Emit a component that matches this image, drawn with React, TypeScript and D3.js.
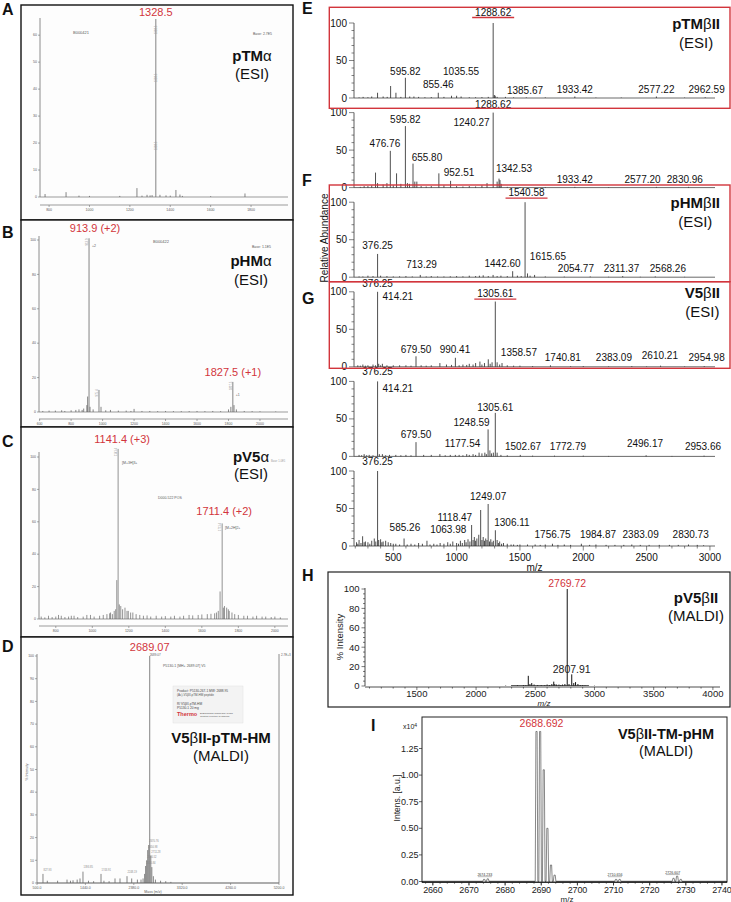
import React from "react";
import * as d3 from "d3";

const FONT = "'Liberation Sans', Arial, Helvetica, sans-serif";
const RED = "#d2353c";
const SCAN = "#707070";
const SCANTXT = "#5a5a5a";

type Peak = [number, number];
type Lab = [string, number, number];

// ---------------- Panel A : pTMα (ESI) ----------------
const aTicksX = [800, 1000, 1200, 1400, 1600, 1800];
const aTicksY = [0, 10, 20, 30, 40, 50, 60];
const aPeaks: Peak[] = [[780, 1.1], [884, 1.8], [948, 0.5], [1000, 0.4], [1150, 0.4], [1235, 3.3], [1260, 0.5], [1285, 0.8], [1300, 0.6], [1310, 0.7], [1328.5, 66], [1349, 0.8], [1379, 0.6], [1400, 0.5], [1428, 2.6], [1448, 0.9], [1460, 0.4], [1600, 0.3], [1770, 1.3]];

// ---------------- Panel B : pHMα (ESI) ----------------
const bTicksX = [600, 800, 1000, 1200, 1400, 1600, 1800, 2000];
const bTicksY = [0, 20, 40, 60, 80, 100];
const bPeaks: Peak[] = [[620, 0.6], [660, 0.8], [700, 0.8], [740, 1], [760, 0.6], [800, 1], [830, 1.2], [850, 1.5], [870, 1.2], [880, 2], [900, 4], [905, 9], [913.9, 101], [920, 3], [940, 1.5], [977, 12.8], [990, 3], [1020, 1], [1050, 1.2], [1100, 0.8], [1150, 0.8], [1180, 0.6], [1200, 1.8], [1250, 0.6], [1300, 0.6], [1350, 0.5], [1400, 0.6], [1450, 0.5], [1500, 0.5], [1550, 0.5], [1600, 0.6], [1650, 0.5], [1700, 0.6], [1750, 0.5], [1800, 1.5], [1815, 3], [1827.5, 17.5], [1835, 4], [1850, 1.5], [1900, 0.6], [1950, 0.5], [2000, 0.4], [2100, 0.3]];

// ---------------- Panel C : pV5α (ESI) ----------------
const cTicksX = [800, 1000, 1200, 1400, 1600, 1800, 2000];
const cTicksY = [0, 20, 40, 60, 80, 100];
const cPeaks: Peak[] = [[720, 1.5], [740, 1], [760, 2], [780, 1.2], [800, 1.5], [815, 2.5], [830, 2], [850, 1.2], [870, 1.5], [885, 2], [900, 2], [920, 1.2], [950, 1.5], [970, 2.5], [990, 2.5], [1010, 1.5], [1040, 2], [1060, 2.5], [1080, 3], [1095, 3.5], [1100, 4], [1110, 3], [1120, 5], [1128, 6], [1134, 24], [1141.4, 105], [1148, 9], [1156, 8], [1166, 6], [1179, 7], [1190, 5], [1197, 5], [1210, 4], [1222, 4], [1240, 3], [1260, 2.5], [1280, 2], [1300, 2.2], [1320, 1.5], [1350, 2], [1380, 1.5], [1400, 1.8], [1430, 1.5], [1450, 2], [1480, 1.5], [1500, 2], [1530, 2.5], [1550, 2.2], [1580, 2.5], [1600, 2.8], [1630, 3], [1650, 3.2], [1670, 3.5], [1680, 4], [1690, 5], [1700, 17], [1711.4, 59], [1718, 7], [1724, 8], [1736, 7], [1745, 6], [1750, 5], [1765, 4], [1780, 3], [1800, 2.5], [1830, 2], [1850, 2], [1880, 1.5], [1900, 2], [1930, 1.5], [1950, 1.5], [1980, 1.2], [2000, 1.5], [2030, 1]];

// ---------------- Panel D : V5βII-pTM-HM (MALDI) ----------------
const dTicksX = [500, 1440, 2380, 3320, 4260, 5200];
const dTicksY = [0, 10, 20, 30, 40, 50, 60, 70, 80, 90, 100];
const dPeaks: Peak[] = [[616, 4], [700, 1], [900, 1], [1083, 1.5], [1150, 1], [1200, 1.2], [1280, 1.5], [1335, 2], [1393, 5], [1500, 1], [1600, 0.8], [1743, 4], [1800, 1], [1900, 0.8], [2015, 2], [2112, 2], [2248, 3], [2339, 2], [2450, 1.5], [2520, 1.5], [2560, 2], [2590, 4], [2610, 7.5], [2630, 10], [2650, 14.5], [2670, 16.7], [2689.07, 100], [2710, 12], [2730, 7], [2760, 3], [2800, 1.5], [2900, 1], [3000, 0.8], [3100, 0.5]];
const dTinyLabels: Lab[] = [["827.93", 616, 5.5], ["1393.85", 1393, 6.5], ["1743.91", 1743, 5.5], ["2248.19", 2248, 4.5], ["2610.84", 2610, 8.5], ["2630.52", 2630, 11], ["2650.98", 2650, 15.5], ["2670.76", 2670, 18], ["2711.28", 2710, 13]];

// ---------------- Panels E–G : ESI spectra ----------------
const egTicksX = [500, 1000, 1500, 2000, 2500, 3000];
const egTicksY = [0, 50, 100];

const s1Peaks: Peak[] = [[230, 0.8], [262, 1.5], [300, 1], [330, 2], [376, 7], [420, 2], [452, 1.5], [479, 16], [521, 7], [560, 1.5], [595.82, 27], [630, 2], [663, 2], [700, 1.5], [750, 1], [800, 1.2], [855.46, 7], [900, 1.5], [960, 3], [1000, 3], [1035.55, 2], [1100, 1], [1150, 1], [1200, 1.2], [1250, 1.5], [1288.62, 100], [1298, 4], [1305, 3], [1320, 1.5], [1385.67, 1.5], [1450, 0.8], [1550, 0.8], [1700, 0.8], [1933.42, 2], [2100, 0.6], [2300, 0.6], [2577.22, 2], [2800, 0.6], [2962.59, 1]];
const s1Labels: Lab[] = [["1288.62", 1288.62, 110], ["595.82", 595.82, 31], ["855.46", 855.46, 13], ["1035.55", 1035.55, 31], ["1385.67", 1540, 6], ["1933.42", 1933.42, 7], ["2577.22", 2577.22, 7], ["2962.59", 2974, 7]];

const s2Peaks: Peak[] = [[240, 1], [270, 2], [300, 2], [330, 3], [360, 20], [376, 6], [420, 4], [450, 6], [476.76, 49], [500, 3], [526, 19], [560, 5], [595.82, 82], [612, 6], [628, 5], [655.8, 32], [670, 8], [686, 8], [720, 2], [760, 1.5], [800, 2], [860, 19], [900, 3], [952.51, 9], [1000, 2], [1050, 1.5], [1100, 2], [1150, 1.5], [1200, 3], [1240.27, 6], [1288.62, 100], [1320, 8], [1335, 12], [1342.53, 10], [1352, 5], [1400, 1], [1500, 0.8], [1700, 0.8], [1933.42, 1], [2200, 0.6], [2577.2, 1], [2830.96, 1]];
const s2Labels: Lab[] = [["1288.62", 1288.62, 106], ["595.82", 595.82, 86], ["1240.27", 1118, 82], ["476.76", 434, 54], ["655.80", 766, 36], ["952.51", 1019, 15], ["1342.53", 1453, 21], ["1933.42", 1933.42, 6], ["2577.20", 2468, 6], ["2830.96", 2802, 6]];

const s3Peaks: Peak[] = [[230, 1], [260, 1], [300, 2], [340, 1.5], [376.25, 31], [400, 2], [450, 1.5], [500, 1], [550, 1.2], [600, 1.5], [650, 1], [713.29, 3], [760, 1], [800, 1.5], [850, 1], [900, 1], [950, 1.2], [1000, 1.5], [1050, 1.2], [1100, 2], [1150, 1.5], [1180, 2], [1210, 2.5], [1250, 1.5], [1288, 3], [1320, 1.5], [1350, 2], [1400, 1.5], [1442.6, 8], [1480, 2], [1510, 1.5], [1540.58, 100], [1560, 5], [1580, 2], [1615.65, 3], [1700, 1], [1850, 0.8], [2054.77, 1], [2200, 0.6], [2311.37, 1.5], [2450, 0.6], [2568.26, 1], [2800, 0.5]];
const s3Labels: Lab[] = [["1540.58", 1552, 108], ["376.25", 376.25, 37], ["713.29", 723, 12], ["1442.60", 1363, 13], ["1615.65", 1721, 23], ["2054.77", 1942, 7], ["2311.37", 2302, 7], ["2568.26", 2668, 7]];

const s4Peaks: Peak[] = [[220, 2], [240, 1.5], [260, 3], [280, 1.5], [300, 2], [340, 3], [360, 2], [376.25, 100], [385, 4], [400, 2], [414.21, 4], [450, 2], [500, 2], [550, 2], [600, 2], [640, 1.5], [679.5, 14], [720, 2], [760, 1.5], [800, 2], [868, 5], [920, 3], [960, 2.5], [990.41, 12], [1020, 2], [1050, 3], [1080, 2.5], [1100, 4], [1130, 3], [1150, 5], [1184, 7], [1200, 3], [1220, 5], [1250, 10], [1265, 4], [1280, 6], [1305.61, 87], [1320, 6], [1340, 3], [1358.57, 5], [1400, 2], [1450, 1.5], [1500, 1.5], [1600, 1], [1740.81, 2], [1900, 0.8], [2000, 1], [2200, 0.6], [2383.09, 1], [2500, 0.6], [2610.21, 1.5], [2800, 0.6], [2954.98, 1]];
const s4Labels: Lab[] = [["376.25", 376.25, 107], ["414.21", 536, 89], ["1305.61", 1305.61, 93], ["679.50", 679.5, 19], ["990.41", 987, 18], ["1358.57", 1492, 15], ["1740.81", 1839, 8], ["2383.09", 2242, 8], ["2610.21", 2605, 11], ["2954.98", 2974, 8]];

const s5Peaks: Peak[] = [[230, 2], [250, 1.5], [270, 3], [290, 1.5], [310, 2], [340, 1.5], [376.25, 100], [390, 3], [414.21, 3], [440, 1.5], [470, 2], [520, 2], [560, 1.5], [600, 2], [640, 1.5], [679.5, 19], [740, 2], [800, 2], [868, 3], [910, 1.5], [950, 2], [990, 2], [1020, 2], [1050, 1.5], [1080, 3], [1100, 2], [1130, 3], [1150, 2], [1177.54, 5], [1200, 4], [1223, 5], [1235, 3], [1248.59, 36], [1263, 8], [1275, 4], [1290, 5], [1305.61, 58], [1320, 5], [1350, 2], [1400, 1.5], [1502.67, 2], [1600, 1], [1772.79, 1], [2000, 1], [2200, 0.6], [2496.17, 1.5], [2700, 0.6], [2953.66, 1]];
const s5Labels: Lab[] = [["376.25", 376.25, 108], ["414.21", 536, 86], ["1305.61", 1305.61, 61], ["1248.59", 1118, 41], ["679.50", 679.5, 24], ["1177.54", 1047, 12], ["1502.67", 1524, 9], ["1772.79", 1879, 9], ["2496.17", 2487, 12], ["2953.66", 2945, 9]];

const s6Peaks: Peak[] = [[210, 5], [220, 3], [230, 8], [245, 4], [258, 13], [270, 5], [280, 6], [300, 5], [315, 3], [330, 7], [350, 10], [362, 6], [376.25, 100], [385, 8], [400, 9], [410, 5], [420, 6], [440, 7], [460, 5], [480, 4], [500, 3], [520, 3], [550, 2], [585.26, 10], [610, 2], [640, 3], [670, 2], [700, 4], [730, 3], [766, 7], [790, 2], [820, 3], [845, 2], [870, 4], [900, 3], [930, 5], [950, 3], [970, 6], [1000, 4], [1015, 3], [1030, 7], [1045, 4], [1063.98, 8], [1075, 5], [1090, 9], [1105, 6], [1118.47, 28], [1130, 8], [1140, 12], [1150, 7], [1160, 10], [1175, 15], [1190, 48], [1200, 8], [1210, 12], [1220, 7], [1230, 10], [1240, 8], [1249.07, 56], [1260, 6], [1270, 9], [1280, 5], [1290, 7], [1306.11, 21], [1320, 8], [1330, 4], [1340, 6], [1355, 3], [1370, 4], [1400, 3], [1430, 2], [1450, 2], [1480, 1.5], [1500, 2], [1560, 2], [1620, 2], [1660, 1.5], [1700, 2], [1756.75, 3], [1800, 1.5], [1850, 2], [1900, 1.5], [1984.87, 3], [2050, 1.5], [2100, 2], [2180, 1.5], [2250, 1.5], [2320, 1.5], [2383.09, 2], [2450, 1.5], [2520, 1.5], [2600, 1.5], [2680, 1.5], [2750, 1.5], [2830.73, 2], [2900, 1.5], [2950, 1]];
const s6Labels: Lab[] = [["376.25", 376.25, 108], ["585.26", 592, 20], ["1063.98", 934, 17], ["1118.47", 986, 34], ["1249.07", 1249.07, 61], ["1306.11", 1437, 27], ["1756.75", 1758, 11], ["1984.87", 2116, 11], ["2383.09", 2453, 11], ["2830.73", 2848, 11]];

const egPeaks = [s1Peaks, s2Peaks, s3Peaks, s4Peaks, s5Peaks, s6Peaks];
const egLabels = [s1Labels, s2Labels, s3Labels, s4Labels, s5Labels, s6Labels];
const egUnderline = ["1288.62", null, "1540.58", "1305.61", null, null];
const egTitles: (string[] | null)[] = [["pTM", "β", "II"], null, ["pHM", "β", "II"], ["V5", "β", "II"], null, null];

// ---------------- Panel H : pV5βII (MALDI) ----------------
const hTicksX = [1500, 2000, 2500, 3000, 3500, 4000];
const hTicksY = [0, 20, 40, 60, 80, 100];
const hPeaks: Peak[] = [[2250, 0.4], [2300, 0.6], [2350, 0.8], [2400, 1], [2420, 0.8], [2441, 10.5], [2455, 2], [2470, 3], [2490, 1.5], [2520, 1], [2550, 1], [2580, 0.8], [2600, 1.5], [2620, 1], [2640, 2], [2656, 4.5], [2665, 2], [2680, 1.5], [2700, 1.5], [2715, 1], [2730, 1.5], [2750, 2], [2769.72, 100], [2785, 2], [2807.91, 12], [2825, 3], [2840, 4], [2860, 2], [2880, 1], [2900, 1], [2920, 0.6], [2950, 0.5], [3000, 0.3]];

// ---------------- Panel I : V5βII-TM-pHM (MALDI) ----------------
const iTicksX = [2660, 2670, 2680, 2690, 2700, 2710, 2720, 2730, 2740];
const iTicksY = [0, 0.25, 0.5, 0.75, 1.0, 1.25];
const iPeaks: Peak[] = [[2674.2, 0.02], [2675.2, 0.025], [2688.69, 1.41], [2689.69, 1.41], [2690.69, 1.05], [2691.7, 0.5], [2692.7, 0.155], [2693.7, 0.06], [2710.7, 0.02], [2711.7, 0.02], [2726.6, 0.03], [2727.6, 0.05], [2728.6, 0.02]];
const iTinyLabels: Lab[] = [["2674.233", 2674.4, 0.05], ["2710.656", 2710.4, 0.05], ["2726.607", 2726.4, 0.07]];

let _ctx: CanvasRenderingContext2D | null = null;
function textW(s: string, font: string) {
  if (!_ctx) _ctx = document.createElement("canvas").getContext("2d");
  if (!_ctx) return s.length * 8;
  _ctx.font = font;
  return _ctx.measureText(s).width;
}

function Sticks({ peaks, x, y, stroke, sw }: any) {
  const d = peaks.map(([m, v]: Peak) => `M${x(m).toFixed(2)},${y(0).toFixed(2)}V${y(v).toFixed(2)}`).join("");
  return <path d={d} stroke={stroke} strokeWidth={sw} fill="none" />;
}

function ScanAxes({ x, y, xTicks, yTicks, axisY, top, fmt }: any) {
  const [x0, x1] = x.range();
  return (
    <g>
      <line x1={x0} x2={x0} y1={y(0)} y2={top} stroke={SCAN} strokeWidth={0.8} />
      <line x1={x0} x2={x1} y1={y(0)} y2={y(0)} stroke={SCAN} strokeWidth={0.7} />
      {yTicks.map((t: number) => (
        <g key={"y" + t}>
          <line x1={x0 - 2} x2={x0} y1={y(t)} y2={y(t)} stroke={SCAN} strokeWidth={0.6} />
          <text x={x0 - 3} y={y(t)} dy="0.35em" fontSize={3.5} textAnchor="end" fill={SCANTXT}>{t}</text>
        </g>
      ))}
      <line x1={x0} x2={x1} y1={axisY} y2={axisY} stroke={SCAN} strokeWidth={0.7} />
      {xTicks.map((t: number) => (
        <g key={"x" + t}>
          <line x1={x(t)} x2={x(t)} y1={axisY} y2={axisY + 2} stroke={SCAN} strokeWidth={0.6} />
          <text x={x(t)} y={axisY + 5.5} fontSize={3.5} textAnchor="middle" fill={SCANTXT}>{fmt ? fmt(t) : t}</text>
        </g>
      ))}
    </g>
  );
}

function Title2({ cx, y1, y2, a, b, c, line2, size }: any) {
  return (
    <g>
      <text x={cx} y={y1} textAnchor="middle" fontSize={size} fontWeight="bold" fill="#111">
        {a}<tspan fontWeight="normal">{b}</tspan>{c}
      </text>
      <text x={cx} y={y2} textAnchor="middle" fontSize={size} fill="#111">{line2}</text>
    </g>
  );
}

export default function App() {
  const xA = d3.scaleLinear().domain([755, 1983]).range([40, 288]);
  const yA = d3.scaleLinear().domain([0, 66]).range([197, 19]);
  const xB = d3.scaleLinear().domain([596, 2178]).range([39, 288]);
  const yB = d3.scaleLinear().domain([0, 100]).range([412, 240]);
  const xC = d3.scaleLinear().domain([708, 2072]).range([39, 288]);
  const yC = d3.scaleLinear().domain([0, 100]).range([619, 457]);
  const xD = d3.scaleLinear().domain([500, 5200]).range([37, 279]);
  const yD = d3.scaleLinear().domain([0, 100]).range([883, 656]);
  const xE = d3.scaleLinear().domain([190, 3040]).range([354, 715]);
  const yE = (i: number) => {
    const base = 98 + i * 89.6;
    return d3.scaleLinear().domain([0, 100]).range([base, base - 75]);
  };
  const xH = d3.scaleLinear().domain([1062, 4060]).range([365, 720]);
  const yH = d3.scaleLinear().domain([0, 100]).range([686, 589]);
  const xI = d3.scaleLinear().domain([2657, 2741.4]).range([422, 727]);
  const yI = d3.scaleLinear().domain([0, 1.546]).range([881.5, 717]);

  const minorE = d3.range(0, 101, 10);
  const minorEX = d3.range(200, 3001, 100);
  const minorH = d3.range(0, 101, 5);
  const minorHX = d3.range(1100, 4051, 100);
  const minorIX = d3.range(2658, 2741, 2);

  const letter = (t: string, x: number, y: number) => (
    <text x={x} y={y} fontSize={16} fontWeight="bold" fill="#111">{t}</text>
  );
  const vtiny = (t: string, x: number, y: number) => (
    <text transform={`translate(${x},${y}) rotate(-90)`} fontSize={2.8} fill="#999" textAnchor="middle">{t}</text>
  );

  return (
    <svg width={731} height={902} style={{ position: "absolute", left: 0, top: 0, background: "#fff" }} fontFamily={FONT}>
      <rect width={731} height={902} fill="#fff" />

      {/* ===== Left column frames ===== */}
      <rect x={21} y={5} width={272} height={215} fill="#fdfdfd" stroke="#111" strokeWidth={1.4} />
      <rect x={21} y={220} width={272} height={207} fill="#fdfdfd" stroke="#111" strokeWidth={1.4} />
      <rect x={21} y={427} width={272} height={210} fill="#fdfdfd" stroke="#111" strokeWidth={1.4} />
      <rect x={21} y={637} width={272} height={258} fill="#fdfdfd" stroke="#111" strokeWidth={1.4} />

      {/* ===== Panel A ===== */}
      <ScanAxes x={xA} y={yA} xTicks={aTicksX} yTicks={aTicksY} axisY={205} top={18} />
      <Sticks peaks={aPeaks} x={xA} y={yA} stroke="#666" sw={0.8} />
      <text x={73} y={34} fontSize={4} fill={SCANTXT}>B000421</text>
      <text x={253} y={35} fontSize={3.5} fill={SCANTXT}>Base: 2.7E5</text>
      {vtiny("1328.5", xA(1328.5) + 1.6, 30)}
      {vtiny("1328.5", xA(1328.5) + 1.6, 78)}
      {vtiny("1328.5", xA(1328.5) + 1.6, 146)}
      <text x={xA(1328.5)} y={16} textAnchor="middle" fontSize={11} fill={RED}>1328.5</text>
      <Title2 cx={252} y1={61} y2={79} a="pTM" b="α" c="" line2="(ESI)" size={15} />

      {/* ===== Panel B ===== */}
      <ScanAxes x={xB} y={yB} xTicks={bTicksX} yTicks={bTicksY} axisY={419} top={236} />
      <Sticks peaks={bPeaks} x={xB} y={yB} stroke="#666" sw={0.8} />
      <text x={153} y={243} fontSize={4} fill={SCANTXT}>B000422</text>
      <text x={252} y={248} fontSize={3.5} fill={SCANTXT}>Base: 1.1E5</text>
      <text x={xB(913.9) + 3} y={247} fontSize={3.5} fill={SCANTXT}>+2</text>
      <text x={xB(1827.5) + 3} y={396} fontSize={3.5} fill={SCANTXT}>+1</text>
      {vtiny("913.9", xB(913.9) - 1.2, 242)}
      {vtiny("975.4", xB(977) - 1.2, 393)}
      {vtiny("1827.5", xB(1827.5) - 1.2, 386)}
      <text x={xB(913.9) + 6} y={232} textAnchor="middle" fontSize={11} fill={RED}>913.9 (+2)</text>
      <text x={xB(1827.5)} y={376} textAnchor="middle" fontSize={11} fill={RED}>1827.5 (+1)</text>
      <Title2 cx={251} y1={266} y2={285} a="pHM" b="α" c="" line2="(ESI)" size={15} />

      {/* ===== Panel C ===== */}
      <ScanAxes x={xC} y={yC} xTicks={cTicksX} yTicks={cTicksY} axisY={626} top={452} />
      <Sticks peaks={cPeaks} x={xC} y={yC} stroke="#666" sw={0.7} />
      <text x={122} y={464} fontSize={3.5} fill={SCANTXT}>[M+3H]3+</text>
      <text x={225} y={529} fontSize={3.5} fill={SCANTXT}>[M+2H]2+</text>
      <text x={158} y={499} fontSize={3.5} fill={SCANTXT}>D000-522 POS</text>
      <text x={271} y={462} fontSize={2.6} fill="#999">Base: 1.0E5</text>
      {vtiny("1141.4", xC(1141.4) - 1.2, 452)}
      {vtiny("1711.4", xC(1711.4) - 1.2, 527)}
      <text x={xC(1141.4) + 4} y={443} textAnchor="middle" fontSize={11} fill={RED}>1141.4 (+3)</text>
      <text x={xC(1711.4) + 2} y={515} textAnchor="middle" fontSize={11} fill={RED}>1711.4 (+2)</text>
      <Title2 cx={251} y1={462} y2={479} a="pV5" b="α" c="" line2="(ESI)" size={15} />

      {/* ===== Panel D ===== */}
      <ScanAxes x={xD} y={yD} xTicks={dTicksX} yTicks={dTicksY} axisY={883} top={654} fmt={(t: number) => t.toFixed(1)} />
      <line x1={279} x2={279} y1={883} y2={654} stroke={SCAN} strokeWidth={0.8} />
      <Sticks peaks={dPeaks} x={xD} y={yD} stroke="#666" sw={0.8} />
      {dTinyLabels.map(([t, m, l]) => (
        <text key={t} x={xD(m) + 0.5} y={yD(l)} fontSize={2.6} fill="#888">{t}</text>
      ))}
      <text x={xD(2689.07)} y={656} fontSize={3} fill={SCANTXT}>2689.07</text>
      <text x={281} y={656} fontSize={3} fill={SCANTXT}>2.7E+3</text>
      <text x={163} y={667} fontSize={3.5} fill={SCANTXT}>P5130-1 [MH+ 2689.07] V5</text>
      <text transform="translate(28,772) rotate(-90)" fontSize={3.5} fill={SCANTXT} textAnchor="middle">% Intensity</text>
      <text x={153} y={893} fontSize={3.5} fill={SCANTXT} textAnchor="middle">Mass (m/z)</text>
      <rect x={173} y={686} width={70} height={37} fill="#f3f3f3" stroke="#e2e2e2" strokeWidth={0.5} />
      <text x={177} y={692} fontSize={3.2} fill="#444">Product: P5130-267-1    MW: 2688.95</text>
      <text x={177} y={696} fontSize={3} fill="#555">(Ac)-V5βII-pTM-HM peptide</text>
      <text x={177} y={705} fontSize={3.2} fill="#444">R/ V5βII-pTM-HM</text>
      <text x={177} y={709} fontSize={3.2} fill="#444">P5130-1          20 mg</text>
      <text x={177} y={716} fontSize={5.5} fontWeight="bold" fill={RED}>Thermo</text>
      <text x={200} y={714} fontSize={2.5} fill="#555">ELECTRON CORPORATION</text>
      <text x={200} y={717} fontSize={2.5} fill="#555">Custom Peptide Synthesis</text>
      <text x={xD(2689.07)} y={651} textAnchor="middle" fontSize={11} fill={RED}>2689.07</text>
      <Title2 cx={221} y1={743} y2={761} a="V5" b="β" c="II-pTM-HM" line2="(MALDI)" size={15} />

      {/* ===== Panels E–G ===== */}
      {egPeaks.map((pk, i) => {
        const y = yE(i);
        const base = y(0);
        const title = egTitles[i];
        let tw = 0;
        if (title) tw = textW(title[0], "bold 15px 'Liberation Sans'") + textW(title[1], "15px 'Liberation Sans'") + textW(title[2], "bold 15px 'Liberation Sans'");
        return (
          <g key={"eg" + i}>
            <line x1={354} x2={354} y1={base} y2={y(100)} stroke="#333" strokeWidth={0.8} />
            {minorE.map((t) => (
              <line key={t} x1={t % 50 === 0 ? 349 : 351.5} x2={354} y1={y(t)} y2={y(t)} stroke="#333" strokeWidth={0.6} />
            ))}
            {egTicksY.map((t) => (
              <text key={"l" + t} x={347} y={y(t)} dy="0.35em" textAnchor="end" fontSize={10} fill="#111">{t}</text>
            ))}
            <line x1={354} x2={715} y1={base} y2={base} stroke="#444" strokeWidth={0.8} />
            <Sticks peaks={pk} x={xE} y={y} stroke="#222" sw={0.8} />
            {egLabels[i].map(([t, m, l]) => (
              <text key={t + m} x={xE(m)} y={y(l)} textAnchor="middle" fontSize={10} fill="#111">{t}</text>
            ))}
            {egUnderline[i] && egLabels[i].filter((d) => d[0] === egUnderline[i]).map(([t, m, l]) => (
              <line key={"u" + t} x1={xE(m) - 21} x2={xE(m) + 21} y1={y(l) + 2} y2={y(l) + 2} stroke={RED} strokeWidth={1.3} />
            ))}
            {title && (
              <g>
                <text x={720} y={base - 69} textAnchor="end" fontSize={15} fontWeight="bold" fill="#111">
                  {title[0]}<tspan fontWeight="normal">{title[1]}</tspan>{title[2]}
                </text>
                <text x={720 - tw / 2} y={base - 50} textAnchor="middle" fontSize={15} fill="#111">(ESI)</text>
              </g>
            )}
            {i === 5 && (
              <g>
                {minorEX.map((t) => (
                  <line key={"mx" + t} x1={xE(t)} x2={xE(t)} y1={base} y2={base + (t % 500 === 0 ? 4.5 : 2.5)} stroke="#333" strokeWidth={0.6} />
                ))}
                {egTicksX.map((t) => (
                  <text key={"tx" + t} x={xE(t)} y={base + 15} textAnchor="middle" fontSize={10} fill="#111">{t}</text>
                ))}
                <text x={(354 + 715) / 2} y={base + 25} textAnchor="middle" fontSize={10} fill="#111">m/z</text>
              </g>
            )}
          </g>
        );
      })}
      <text transform="translate(327.5,238) rotate(-90)" textAnchor="middle" fontSize={10} fill="#111">Relative Abundance</text>
      <rect x={329.3} y={7.3} width={400.7} height={101} fill="none" stroke={RED} strokeWidth={1.4} />
      <rect x={329.3} y={185} width={400.7} height={96.7} fill="none" stroke={RED} strokeWidth={1.4} />
      <rect x={329.3} y={281.7} width={400.7} height={86.6} fill="none" stroke={RED} strokeWidth={1.4} />

      {/* ===== Panel H ===== */}
      <rect x={328} y={572} width={402} height={135} fill="none" stroke="#222" strokeWidth={1.2} />
      <line x1={365} x2={365} y1={yH(0)} y2={588} stroke="#222" strokeWidth={0.8} />
      {minorH.map((t) => (
        <line key={"mh" + t} x1={t % 20 === 0 ? 361.5 : 363} x2={365} y1={yH(t)} y2={yH(t)} stroke="#222" strokeWidth={0.6} />
      ))}
      {hTicksY.map((t) => (
        <text key={"hy" + t} x={359.5} y={yH(t)} dy="0.35em" textAnchor="end" fontSize={9.5} fill="#222">{t}</text>
      ))}
      <line x1={365} x2={720} y1={687} y2={687} stroke="#222" strokeWidth={0.8} />
      {minorHX.map((t) => (
        <line key={"mhx" + t} x1={xH(t)} x2={xH(t)} y1={687} y2={687 + (t % 500 === 0 ? 3 : 1.6)} stroke="#222" strokeWidth={0.6} />
      ))}
      {hTicksX.map((t) => (
        <text key={"hx" + t} x={xH(t)} y={697} textAnchor="middle" fontSize={9.5} fill="#222">{t}</text>
      ))}
      <text x={544} y={706.3} textAnchor="middle" fontSize={8} fontStyle="italic" fill="#222">m/z</text>
      <text transform="translate(343,637) rotate(-90)" textAnchor="middle" fontSize={9.5} fill="#222">% Intensity</text>
      <Sticks peaks={hPeaks} x={xH} y={yH} stroke="#111" sw={1} />
      <line x1={xH(2300)} x2={xH(2950)} y1={685.5} y2={685.5} stroke="#333" strokeWidth={0.8} />
      <text x={xH(2769.72)} y={586.5} textAnchor="middle" fontSize={10.5} fill={RED}>2769.72</text>
      <text x={xH(2807.91)} y={673} textAnchor="middle" fontSize={10.5} fill="#222">2807.91</text>
      <Title2 cx={696} y1={603} y2={621} a="pV5" b="β" c="II" line2="(MALDI)" size={15} />

      {/* ===== Panel I ===== */}
      <rect x={422} y={717} width={305} height={165} fill="none" stroke="#222" strokeWidth={1} />
      <line x1={422} x2={727} y1={882} y2={882} stroke="#111" strokeWidth={1.5} />
      {iTicksY.map((t) => (
        <g key={"iy" + t}>
          <line x1={419} x2={422} y1={yI(t)} y2={yI(t)} stroke="#222" strokeWidth={0.7} />
          <text x={418.5} y={yI(t)} dy="0.35em" textAnchor="end" fontSize={9} fill="#222">{d3.format(".2f")(t)}</text>
        </g>
      ))}
      <text x={403} y={729} fontSize={7} fill="#222">x10<tspan dy={-2.5} fontSize={5}>4</tspan></text>
      {minorIX.map((t) => (
        <line key={"mix" + t} x1={xI(t)} x2={xI(t)} y1={882} y2={882 + (t % 10 === 0 ? 3.2 : 1.8)} stroke="#222" strokeWidth={0.6} />
      ))}
      {iTicksX.map((t) => (
        <g key={"ix" + t}>
          <line x1={xI(t)} x2={xI(t)} y1={882} y2={885.5} stroke="#222" strokeWidth={0.7} />
          <text x={xI(t)} y={893} textAnchor="middle" fontSize={9} letterSpacing={-0.2} fill="#222">{t}</text>
        </g>
      ))}
      <text x={567} y={901.5} textAnchor="middle" fontSize={8} fill="#222">m/z</text>
      <text transform="translate(400,798) rotate(-90)" textAnchor="middle" fontSize={8.5} fill="#222">Intens. [a.u.]</text>
      <line x1={423} x2={726} y1={yI(0) - 0.3} y2={yI(0) - 0.3} stroke="#555" strokeWidth={0.6} />
      {iPeaks.map(([m, v]) => (
        <path key={"ip" + m} d={`M${xI(m) - 1.3},${yI(0)}L${xI(m) - 0.6},${yI(v)}L${xI(m) + 0.6},${yI(v)}L${xI(m) + 1.3},${yI(0)}`} fill="#fff" stroke="#555" strokeWidth={0.7} />
      ))}
      {iTinyLabels.map(([t, m, l]) => (
        <g key={t}>
          <text x={xI(m)} y={yI(l) - 0.5} textAnchor="middle" fontSize={3.6} fill="#333">{t}</text>
          <line x1={xI(m) - 7} x2={xI(m) + 7} y1={yI(l) + 0.5} y2={yI(l) + 0.5} stroke="#555" strokeWidth={0.4} />
        </g>
      ))}
      <text x={xI(2688.69) + 5} y={727} textAnchor="middle" fontSize={10.5} fill={RED}>2688.692</text>
      <Title2 cx={666} y1={739} y2={756} a="V5" b="β" c="II-TM-pHM" line2="(MALDI)" size={14.5} />

      {/* ===== Panel letters ===== */}
      {letter("A", 2, 15)}
      {letter("B", 2, 238)}
      {letter("C", 2, 447)}
      {letter("D", 2, 652)}
      {letter("E", 302, 14)}
      {letter("F", 302, 186)}
      {letter("G", 302, 304)}
      {letter("H", 302, 581)}
      {letter("I", 371, 731)}
    </svg>
  );
}
